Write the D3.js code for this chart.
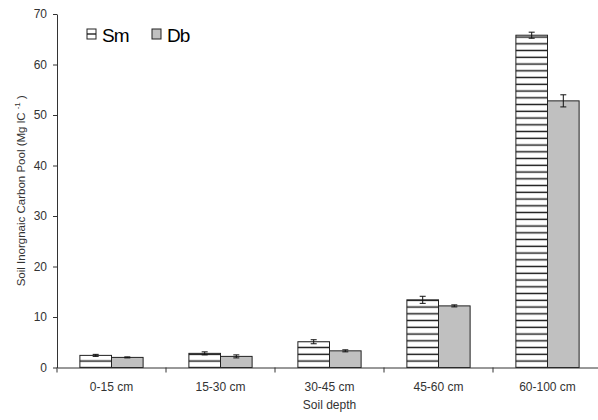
<!DOCTYPE html>
<html>
<head>
<meta charset="utf-8">
<script src="https://cdn.jsdelivr.net/npm/d3@7"></script>
<style>
  html, body { margin: 0; padding: 0; background: #fff; overflow: hidden; }
  svg { display: block; font-family: "Liberation Sans", Arial, sans-serif; }
</style>
</head>
<body>
<svg id="chart" width="598" height="420"></svg>
<script>
// Soil inorganic carbon pool by depth, two land-use series
const categories = ["0-15 cm", "15-30 cm", "30-45 cm", "45-60 cm", "60-100 cm"];
const seriesNames = ["Sm", "Db"];
const smValues = [2.4, 2.8, 5.1, 13.4, 65.8];
const smErrors = [0.2, 0.3, 0.4, 0.7, 0.6];
const dbValues = [2.0, 2.2, 3.3, 12.2, 52.8];
const dbErrors = [0.1, 0.3, 0.2, 0.2, 1.2];
const yTicks = [0, 10, 20, 30, 40, 50, 60, 70];

const svg = d3.select("#chart");

const x = d3.scaleBand().domain(categories).range([57, 602]).padding(0);
const inner = d3.scaleBand().domain(seriesNames)
  .range([x.bandwidth() * 0.21, x.bandwidth() * 0.79]).padding(0);
const y = d3.scaleLinear().domain([0, 70]).range([367.5, 14]);

// horizontal stripe fill for the Sm series
const defs = svg.append("defs");
const pat = defs.append("pattern")
  .attr("id", "stripes")
  .attr("patternUnits", "userSpaceOnUse")
  .attr("x", 0).attr("y", 0)
  .attr("width", 10).attr("height", 6.75);
pat.append("rect").attr("width", 10).attr("height", 6.75).attr("fill", "#fff");
pat.append("rect").attr("x", 0).attr("y", 2.6).attr("width", 10).attr("height", 1.4).attr("fill", "#111");

const fills = { Sm: "url(#stripes)", Db: "#c0c0c0" };

const rows = categories.map((c, i) => ({
  cat: c,
  vals: [
    { s: "Sm", v: smValues[i], e: smErrors[i] },
    { s: "Db", v: dbValues[i], e: dbErrors[i] }
  ]
}));

const groups = svg.append("g").selectAll("g").data(rows).join("g")
  .attr("transform", d => `translate(${x(d.cat)},0)`);

groups.selectAll("rect").data(d => d.vals).join("rect")
  .attr("x", d => inner(d.s))
  .attr("y", d => y(d.v))
  .attr("width", inner.bandwidth())
  .attr("height", d => y(0) - y(d.v))
  .attr("fill", d => fills[d.s])
  .attr("stroke", "#222")
  .attr("stroke-width", 1);

// error bars
const eb = groups.selectAll("g.err").data(d => d.vals).join("g").attr("class", "err")
  .attr("stroke", "#111").attr("stroke-width", 1);
eb.append("line")
  .attr("x1", d => inner(d.s) + inner.bandwidth() / 2)
  .attr("x2", d => inner(d.s) + inner.bandwidth() / 2)
  .attr("y1", d => y(d.v + d.e)).attr("y2", d => y(d.v - d.e));
eb.append("line")
  .attr("x1", d => inner(d.s) + inner.bandwidth() / 2 - 3)
  .attr("x2", d => inner(d.s) + inner.bandwidth() / 2 + 3)
  .attr("y1", d => y(d.v + d.e)).attr("y2", d => y(d.v + d.e));
eb.append("line")
  .attr("x1", d => inner(d.s) + inner.bandwidth() / 2 - 3)
  .attr("x2", d => inner(d.s) + inner.bandwidth() / 2 + 3)
  .attr("y1", d => y(d.v - d.e)).attr("y2", d => y(d.v - d.e));

// y axis
const yAxis = svg.append("g")
  .attr("transform", `translate(${x.range()[0]},0)`)
  .call(d3.axisLeft(y).tickValues(yTicks).tickSize(4).tickPadding(6).tickSizeOuter(0));
yAxis.select(".domain").attr("stroke", "#333");
yAxis.selectAll(".tick line").attr("stroke", "#333");
yAxis.selectAll(".tick text").attr("fill", "#333").attr("font-size", 12)
  .attr("font-family", "'Liberation Sans', Arial, sans-serif");

// x axis with labels centred in each band, ticks at band boundaries
const xAxis = svg.append("g")
  .attr("transform", `translate(0,${y(0)})`)
  .call(d3.axisBottom(x).tickSize(0).tickPadding(15).tickSizeOuter(0));
xAxis.select(".domain").attr("stroke", "#333");
xAxis.selectAll(".tick text").attr("fill", "#333").attr("font-size", 12)
  .attr("font-family", "'Liberation Sans', Arial, sans-serif");
xAxis.selectAll("line.sep").data(categories).join("line").attr("class", "sep")
  .attr("x1", d => x(d)).attr("x2", d => x(d))
  .attr("y1", 0).attr("y2", 5)
  .attr("stroke", "#333");

// axis titles
svg.append("text")
  .attr("x", (x.range()[0] + x.range()[1]) / 2)
  .attr("y", 409)
  .attr("text-anchor", "middle")
  .attr("font-size", 12).attr("fill", "#333")
  .text("Soil depth");

const yl = svg.append("text")
  .attr("transform", `translate(25,${(y(0) + y(70)) / 2}) rotate(-90)`)
  .attr("text-anchor", "middle")
  .attr("font-size", 11.5).attr("fill", "#333");
yl.append("tspan").text("Soil Inorgnaic Carbon Pool (Mg lC ");
yl.append("tspan").attr("dy", -5).attr("font-size", 8).text("-1");
yl.append("tspan").attr("dy", 5).text(" )");

// legend
const legend = svg.append("g");
const legendX = [87, 152];
seriesNames.forEach((s, i) => {
  const g = legend.append("g").attr("transform", `translate(${legendX[i]},29)`);
  g.append("rect").attr("width", 9).attr("height", 10)
    .attr("fill", s === "Sm" ? "#fff" : "#c0c0c0")
    .attr("stroke", "#222").attr("stroke-width", 1);
  if (s === "Sm") {
    g.append("line").attr("x1", 0).attr("x2", 9).attr("y1", 5).attr("y2", 5)
      .attr("stroke", "#111").attr("stroke-width", 1.3);
  }
  g.append("text").attr("x", 15).attr("y", 12.5)
    .attr("font-size", 19).attr("letter-spacing", -1).attr("fill", "#000")
    .text(s);
});
</script>
</body>
</html>
